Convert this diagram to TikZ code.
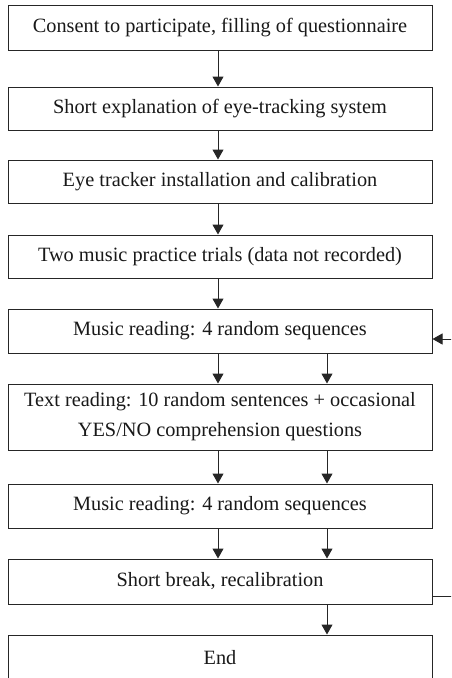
\documentclass[tikz,border=0pt]{standalone}
\usepackage{fontspec}
\setmainfont{Liberation Serif}
\usetikzlibrary{arrows.meta}
\begin{document}
\begin{tikzpicture}[x=1pt,y=1pt,
  box/.style={draw=black!85, line width=1pt, minimum width=424pt, inner sep=0pt, align=center,
    font=\fontsize{20.3}{30}\selectfont, text=black!90},
  arr/.style={draw=black!85, line width=1pt, -{Triangle[length=10pt,width=11pt]}},
  ln/.style={draw=black!85, line width=1pt}]
\useasboundingbox (0,0) rectangle (451,-678);
\clip (0,0) rectangle (451,-678);
\fill[white] (0,0) rectangle (451,-678);
\node[box, minimum height=45pt] (b1) at (220,-27.5) {Consent to participate, filling of questionnaire};
\node[box, minimum height=43pt] (b2) at (220,-108.5) {Short explanation of eye-tracking system};
\node[box, minimum height=43pt] (b3) at (220,-181.5) {Eye tracker installation and calibration};
\node[box, minimum height=43pt] (b4) at (220,-256.5) {Two music practice trials (data not recorded)};
\node[box, minimum height=44pt] (b5) at (220,-331) {Music reading: 4 random sequences};
\node[box, minimum height=66pt] (b6) at (220,-417) {Text reading: 10 random sentences + occasional\\YES/NO comprehension questions};
\node[box, minimum height=44pt] (b7) at (220,-506) {Music reading: 4 random sequences};
\node[box, minimum height=45pt] (b8) at (220,-581.5) {Short break, recalibration};
\node[box, minimum height=45pt] (b9) at (220,-657.5) {End};
\coordinate (xA) at (218,0);
\coordinate (xB) at (327,0);
\coordinate (loopR) at (452,-596);
\coordinate (loopT) at (452,-339);
\draw[arr] (b1.south -| xA) -- (b2.north -| xA);
\draw[arr] (b2.south -| xA) -- (b3.north -| xA);
\draw[arr] (b3.south -| xA) -- (b4.north -| xA);
\draw[arr] (b4.south -| xA) -- (b5.north -| xA);
\draw[arr] (b5.south -| xA) -- (b6.north -| xA);
\draw[arr] (b5.south -| xB) -- (b6.north -| xB);
\draw[arr] (b6.south -| xA) -- (b7.north -| xA);
\draw[arr] (b6.south -| xB) -- (b7.north -| xB);
\draw[arr] (b7.south -| xA) -- (b8.north -| xA);
\draw[arr] (b7.south -| xB) -- (b8.north -| xB);
\draw[arr] (b8.south -| xB) -- (b9.north -| xB);
\draw[ln] (b8.east |- loopR) -- (loopR) -- (loopT);
\draw[arr] (loopT) -- (b5.east |- loopT);
\end{tikzpicture}
\end{document}
